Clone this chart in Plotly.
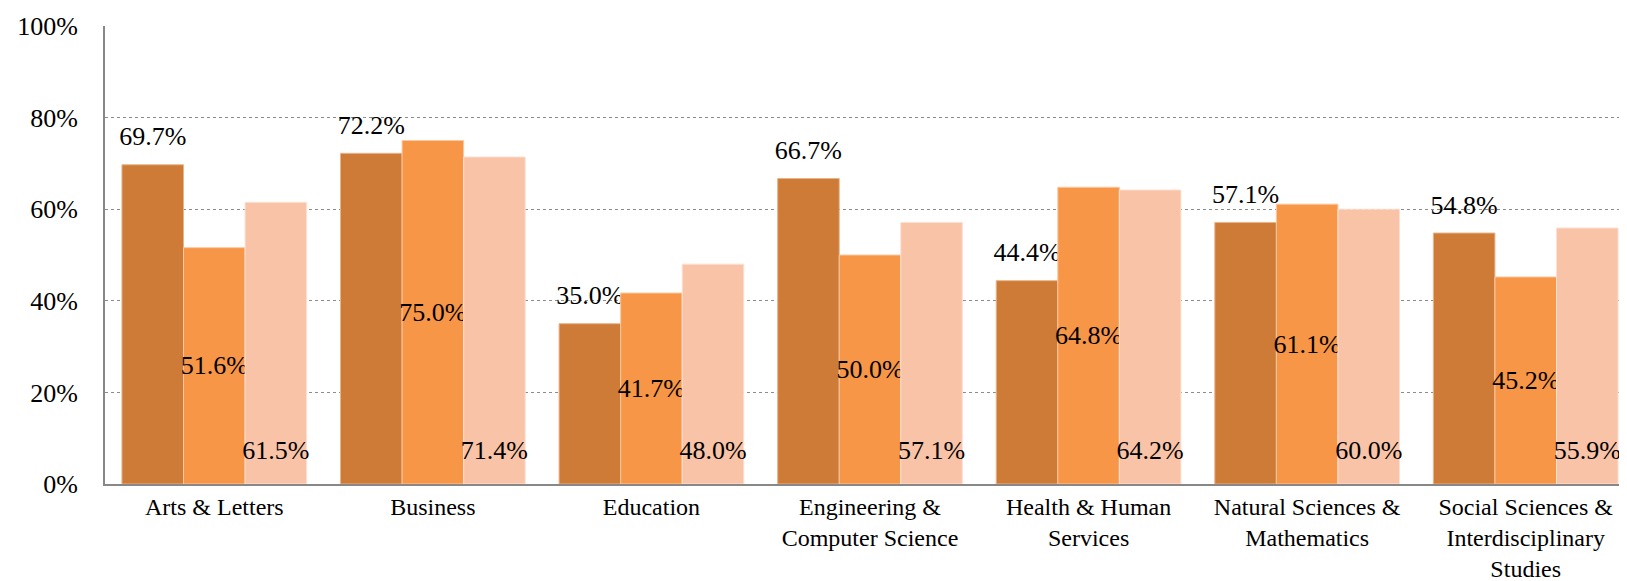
import plotly.graph_objects as go

categories = [
    "Arts & Letters",
    "Business",
    "Education",
    "Engineering &<br>Computer Science",
    "Health & Human<br>Services",
    "Natural Sciences &<br>Mathematics",
    "Social Sciences &<br>Interdisciplinary<br>Studies",
]
series_a = [69.7, 72.2, 35.0, 66.7, 44.4, 57.1, 54.8]
series_b = [51.6, 75.0, 41.7, 50.0, 64.8, 61.1, 45.2]
series_c = [61.5, 71.4, 48.0, 57.1, 64.2, 60.0, 55.9]
y_ticks = [0, 20, 40, 60, 80, 100]

FONT = "Times New Roman, Liberation Serif, serif"
FS = 26


def lifted(v):
    # big label plus a small blank line under it, so it sits a bit off its anchor
    return f"<span style='font-size:{FS}px'>{v:.1f}%</span><br> "


fig = go.Figure()
fig.add_trace(go.Bar(
    x=categories, y=series_a, name="A",
    marker=dict(color="#CD7B37", line=dict(color="#E9B48A", width=1)),
    text=[lifted(v) for v in series_a], textposition="outside",
    textangle=0, constraintext="none", cliponaxis=False,
    outsidetextfont=dict(family=FONT, size=11, color="black"),
))
fig.add_trace(go.Bar(
    x=categories, y=series_b, name="B",
    marker=dict(color="#F79646", line=dict(color="#FBC9A0", width=1)),
    text=[f"{v:.1f}%" for v in series_b], textposition="inside",
    textangle=0, insidetextanchor="middle", constraintext="none",
    insidetextfont=dict(family=FONT, size=FS, color="black"),
))
fig.add_trace(go.Bar(
    x=categories, y=series_c, name="C",
    marker=dict(color="#F9C3A8", line=dict(color="#FCE0D2", width=1)),
    text=[lifted(v) for v in series_c], textposition="inside",
    textangle=0, insidetextanchor="start", constraintext="none",
    insidetextfont=dict(family=FONT, size=15, color="black"),
))

fig.update_layout(
    width=1627, height=581,
    barmode="group", bargap=0.155, bargroupgap=0,
    showlegend=False,
    plot_bgcolor="white", paper_bgcolor="white",
    margin=dict(l=97, r=0, t=18, b=105),
    font=dict(family=FONT, size=FS, color="black"),
)
fig.update_yaxes(
    range=[0, 100], tickvals=y_ticks, ticktext=[f"{t}%" for t in y_ticks],
    showgrid=True, gridcolor="#8C8C8C", griddash="dot", gridwidth=1,
    showline=True, linecolor="#888888", linewidth=2,
    ticks="", ticklabelstandoff=20, zeroline=False,
    tickfont=dict(family=FONT, size=FS, color="black"),
)
fig.update_xaxes(
    showline=True, linecolor="#888888", linewidth=2, ticks="",
    tickfont=dict(family=FONT, size=24, color="black"),
)

fig.write_html("out.html")
